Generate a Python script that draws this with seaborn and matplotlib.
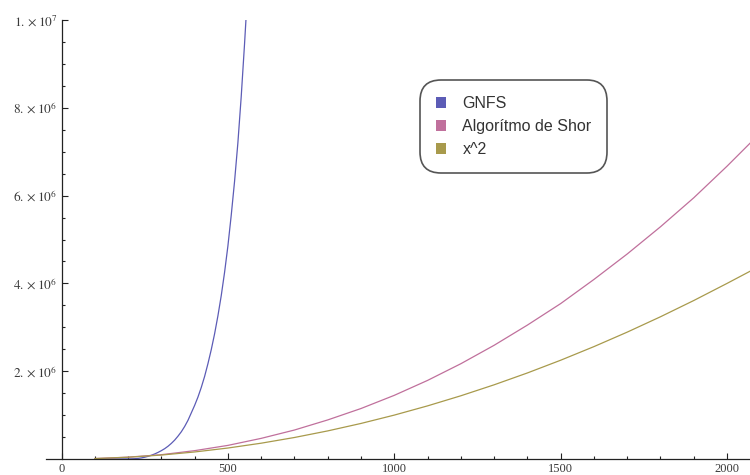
import pandas as pd
import seaborn as sns
import matplotlib.pyplot as plt
from matplotlib.patches import Patch

# values (y in units of 1e6)
gnfs_x = [100, 150, 200, 210, 220, 230, 240, 250, 260, 270, 280, 290, 300, 310, 320, 330,
          340, 350, 360, 370, 380, 390, 400, 410, 420, 430, 440, 450, 460, 470, 480, 490,
          500, 510, 520, 530, 540, 550, 555, 560]
gnfs_y = [0.0, 0.0005, 0.002, 0.004, 0.007, 0.014, 0.025, 0.04, 0.06, 0.085, 0.115, 0.15,
          0.19, 0.235, 0.29, 0.355, 0.43, 0.52, 0.62, 0.74, 0.88, 1.05, 1.22, 1.41, 1.63,
          1.88, 2.17, 2.49, 2.85, 3.26, 3.72, 4.25, 4.85, 5.55, 6.32, 7.2, 8.25, 9.45, 10.1, 10.8]

shor_x = [100, 200, 300, 400, 500, 600, 700, 800, 900, 1000, 1100, 1200, 1300, 1400,
          1500, 1600, 1700, 1800, 1900, 2000, 2070]
shor_y = [0.01, 0.042, 0.098, 0.19, 0.31, 0.47, 0.66, 0.89, 1.15, 1.45, 1.79, 2.17, 2.59, 3.05,
          3.54, 4.09, 4.67, 5.29, 5.95, 6.67, 7.2]

sq_x = [100, 200, 300, 400, 500, 600, 700, 800, 900, 1000, 1100, 1200, 1300, 1400,
        1500, 1600, 1700, 1800, 1900, 2000, 2070]
sq_y = [0.01, 0.04, 0.09, 0.16, 0.25, 0.36, 0.49, 0.64, 0.81, 1.0, 1.21, 1.44, 1.69, 1.96,
        2.25, 2.56, 2.89, 3.24, 3.61, 4.0, 4.28]

names = ["GNFS", "Algorítmo de Shor", "x^2"]
colors = ["#5c5cb6", "#c0709c", "#a89a4c"]

df = pd.concat([
    pd.DataFrame({"x": gnfs_x, "y": [v * 1e6 for v in gnfs_y], "serie": names[0]}),
    pd.DataFrame({"x": shor_x, "y": [v * 1e6 for v in shor_y], "serie": names[1]}),
    pd.DataFrame({"x": sq_x, "y": [v * 1e6 for v in sq_y], "serie": names[2]}),
])

sns.set_style("white")
plt.rcParams["font.family"] = ["Liberation Sans", "DejaVu Sans"]
plt.rcParams["mathtext.fontset"] = "stix"

fig = plt.figure(figsize=(7.5, 4.75), dpi=100)
ax = fig.add_axes([46 / 750, 16 / 475, 704 / 750, 439 / 475])

sns.lineplot(data=df, x="x", y="y", hue="serie", palette=dict(zip(names, colors)),
             estimator=None, sort=False, linewidth=0.9, legend=False, ax=ax)

ax.set_xlim(-46.6, 2069)
ax.set_ylim(0, 1e7)
ax.set_xlabel("")
ax.set_ylabel("")

# axes crossing at the origin
ax.spines["left"].set_position(("data", 0))
ax.spines["bottom"].set_position(("data", 0))
ax.spines["top"].set_visible(False)
ax.spines["right"].set_visible(False)
for s in ["left", "bottom"]:
    ax.spines[s].set_color("#222222")
    ax.spines[s].set_linewidth(0.9)

ax.set_xticks([0, 500, 1000, 1500, 2000])
ax.set_xticklabels(["0", "500", "1000", "1500", "2000"])
ax.set_xticks(range(100, 2100, 100), minor=True)
ax.set_yticks([2e6, 4e6, 6e6, 8e6, 1e7])
ax.set_yticklabels([r"$2.\times10^{6}$", r"$4.\times10^{6}$", r"$6.\times10^{6}$",
                    r"$8.\times10^{6}$", r"$1.\times10^{7}$"])
ax.set_yticks([i * 5e5 for i in range(1, 20)], minor=True)
ax.tick_params(which="both", direction="in", color="#222222", width=0.8,
               bottom=True, left=True)
ax.tick_params(which="major", length=4.5, pad=3)
ax.tick_params(which="minor", length=2.5)
ax.tick_params(axis="y", which="major", labelsize=9.5, labelcolor="#3a3a3a")
ax.tick_params(axis="x", which="major", labelsize=9, labelcolor="#3a3a3a")
for t in ax.get_xticklabels():
    t.set_family("Liberation Serif")

handles = [Patch(facecolor=c, edgecolor="none", label=n) for n, c in zip(names, colors)]
leg = fig.legend(handles=handles, loc="upper left", bbox_to_anchor=(420 / 750, 1 - 80 / 475),
                 fontsize=11.5, frameon=True, fancybox=True, borderpad=1.0,
                 labelspacing=0.5, handlelength=0.65, handleheight=0.65,
                 handletextpad=1.0, borderaxespad=0)
fr = leg.get_frame()
fr.set_boxstyle("round", pad=0, rounding_size=1.3)
fr.set_edgecolor("#555555")
fr.set_linewidth(1.2)
fr.set_facecolor("white")
fr.set_alpha(1)
for t in leg.get_texts():
    t.set_color("#333333")

fig.savefig("out.png", dpi=100)
